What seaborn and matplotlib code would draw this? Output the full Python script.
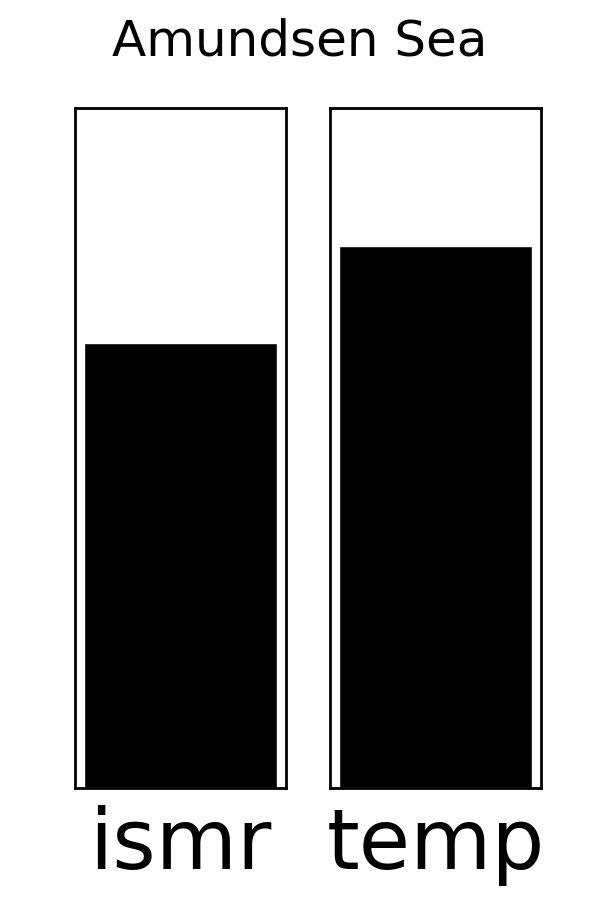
import matplotlib
matplotlib.use("Agg")
import matplotlib.pyplot as plt
import seaborn as sns
import pandas as pd

# values shown as fraction of full scale
variables = ["ismr", "temp"]
values = [0.654, 0.797]
title = "Amundsen Sea"

sns.set_style("white")
plt.rcParams['font.family'] = ['DejaVu Sans']
plt.rcParams['text.color'] = 'black'
plt.rcParams['xtick.color'] = 'black'

fig = plt.figure(figsize=(6, 9), dpi=100)
lefts = [75 / 600, 330 / 600]

for left, var, val in zip(lefts, variables, values):
    ax = fig.add_axes([left, 112 / 900, 211 / 600, 680 / 900])
    df = pd.DataFrame({"var": [var], "value": [val]})
    sns.barplot(data=df, x="var", y="value", color="black", width=0.91,
                saturation=1, ax=ax)
    ax.set_xlim(-0.5, 0.5)
    ax.set_ylim(0, 1)
    ax.set_yticks([])
    ax.set_xlabel("")
    ax.set_ylabel("")
    ax.tick_params(axis="x", length=0, pad=12, labelsize=60, labelcolor="black")
    for sp in ax.spines.values():
        sp.set_visible(True)
        sp.set_color("black")
        sp.set_linewidth(2)

fig.suptitle(title, fontsize=36, y=1 - 41 / 900, va="center", color="black")
fig.savefig("out.png", dpi=100)
